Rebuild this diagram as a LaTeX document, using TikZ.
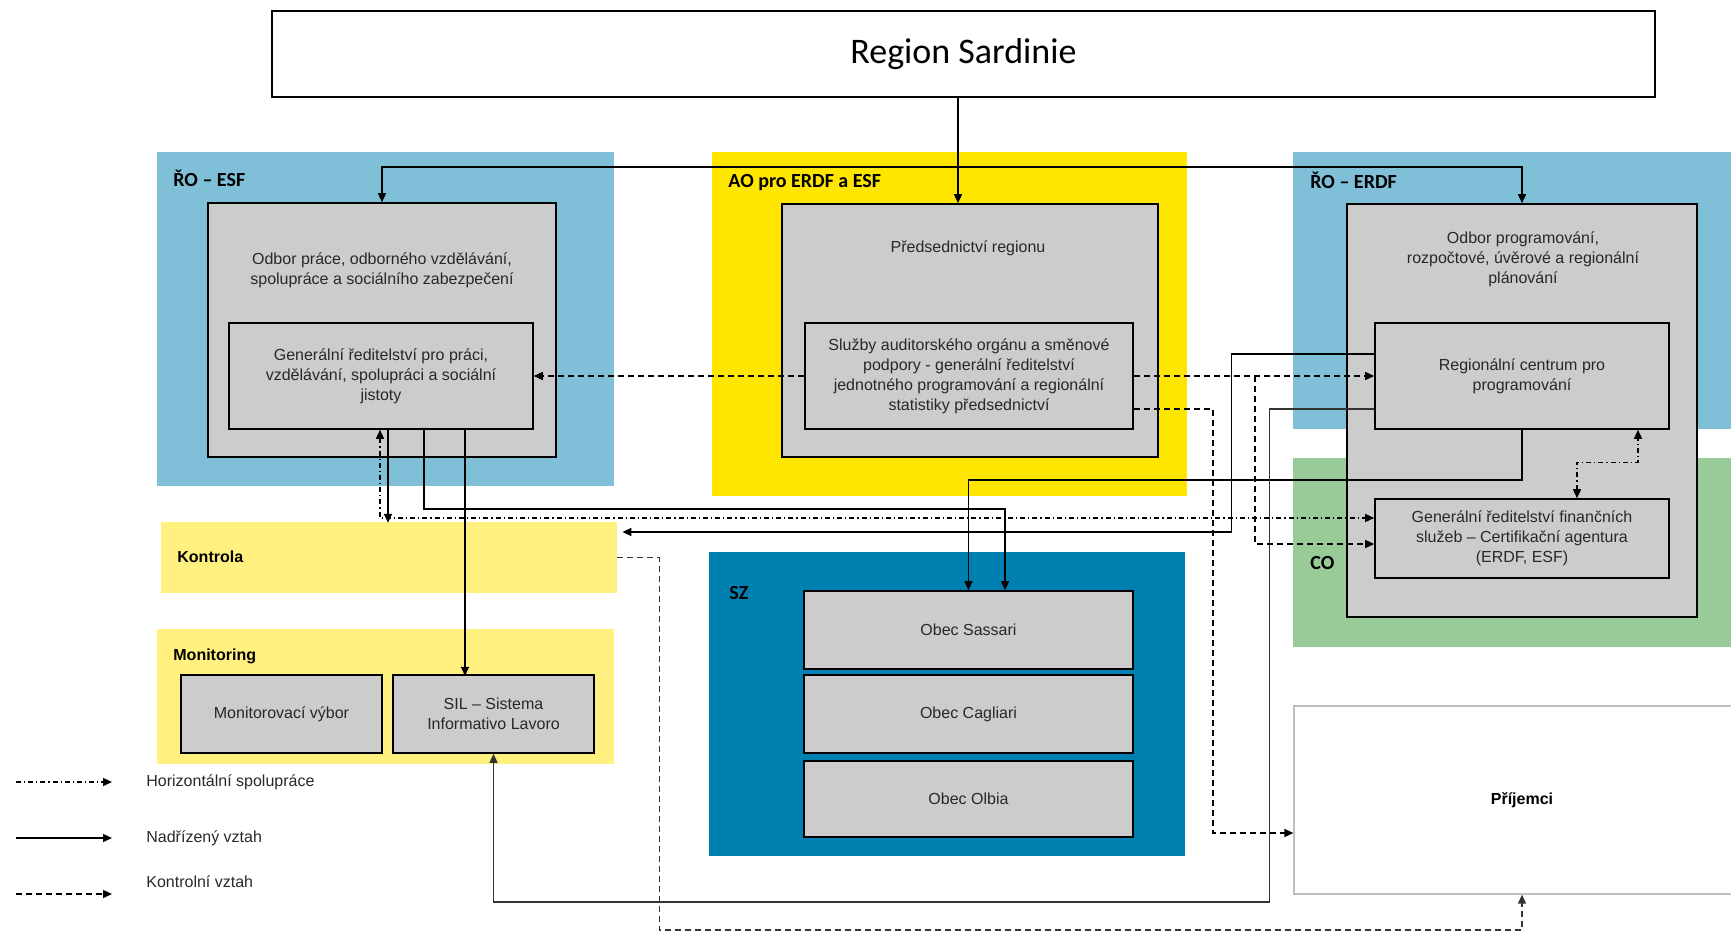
\documentclass[tikz,border=0pt]{standalone}
\usepackage{fontspec}
\setmainfont{Liberation Sans}
\newfontfamily\calibri{Carlito}
\usetikzlibrary{arrows.meta}
\definecolor{roblue}{RGB}{127,192,216}
\definecolor{aoyellow}{RGB}{255,230,0}
\definecolor{kyellow}{RGB}{255,240,128}
\definecolor{szblue}{RGB}{0,128,177}
\definecolor{cogreen}{RGB}{153,203,153}
\definecolor{boxgray}{RGB}{204,204,204}
\definecolor{txtgray}{RGB}{40,40,40}
\tikzset{
  >={Triangle[length=4.5pt,width=4pt]},
  bg/.style      ={draw=none,inner sep=0pt},
  gbox/.style    ={draw=black,line width=0.8pt,fill=boxgray,inner sep=0pt,align=center,
                   font=\fontsize{8}{10}\selectfont,text=txtgray},
  btext/.style   ={inner sep=0pt,align=center,font=\fontsize{8}{10}\selectfont,text=txtgray},
  grplbl/.style  ={inner sep=0pt,anchor=west,font=\calibri\bfseries\fontsize{10}{12}\selectfont},
  arlbl/.style   ={inner sep=0pt,anchor=west,font=\bfseries\fontsize{8}{10}\selectfont},
  relline/.style ={line width=0.7pt,->},
  nadr/.style    ={relline},
  kontr/.style   ={relline,dash pattern=on 3pt off 2pt},
  hspol/.style   ={relline,dash pattern=on 2.5pt off 1.5pt on 0.6pt off 1.5pt},
}
% box from pixel corners: [style]{name}{x1}{y1}{x2}{y2}{text}
\newcommand{\gbox}[7][gbox]{%
  \pgfmathsetmacro{\bw}{(#5-#3)*0.5}%
  \pgfmathsetmacro{\bh}{(#6-#4)*0.5}%
  \node[#1,minimum width=\bw pt,minimum height=\bh pt] (#2) at ({(#3+#5)/2},{(#4+#6)/2}) {#7};}

\begin{document}
\begin{tikzpicture}[x=0.5pt,y=-0.5pt]
  \useasboundingbox (0,0) rectangle (1731,932);
  % coloured areas
  \gbox[bg,fill=roblue]{esfbg}{157}{152}{614}{486}{}
  \gbox[bg,fill=aoyellow]{aobg}{712}{152}{1187}{496}{}
  \gbox[bg,fill=roblue]{erdfbg}{1293}{152}{1740}{429}{}
  \gbox[bg,fill=cogreen]{cobg}{1293}{458}{1740}{647}{}
  \gbox[bg,fill=kyellow]{kontrola}{161}{522}{617}{593}{}
  \gbox[bg,fill=kyellow]{monitoring}{157}{629}{614}{764}{}
  \gbox[bg,fill=szblue]{szbg}{709}{552}{1185}{856}{}
  \node[grplbl] at (173,178) {ŘO – ESF};
  \node[grplbl] at (728,183) {AO pro ERDF a ESF};
  \node[grplbl] at (1310,180) {ŘO – ERDF};
  \node[grplbl] at (1310,563) {CO};
  \node[grplbl] at (729,593) {SZ};
  \node[arlbl] at (177,557) {Kontrola};
  \node[arlbl] at (173,656) {Monitoring};
  % boxes
  \gbox[gbox,fill=white,text=black]{region}{272}{11}{1655}{97}{\calibri\fontsize{18}{22}\selectfont Region Sardinie}
  \gbox{esfout}{208}{203}{556}{457}{}
  \node[btext] (esfoutlbl) at (382,270) {Odbor práce, odborného vzdělávání,\\spolupráce a sociálního zabezpečení};
  \gbox{esfin}{229}{323}{533}{429}{Generální ředitelství pro práci,\\vzdělávání, spolupráci a sociální\\jistoty}
  \gbox{aoout}{782}{204}{1158}{457}{}
  \node[btext] (aooutlbl) at (968,248) {Předsednictví regionu};
  \gbox{aoin}{805}{323}{1133}{429}{Služby auditorského orgánu a směnové\\podpory - generální ředitelství\\jednotného programování a regionální\\statistiky předsednictví}
  \gbox{erdfout}{1347}{204}{1697}{617}{}
  \node[btext] (erdfoutlbl) at (1523,259) {Odbor programování,\\rozpočtové, úvěrové a regionální\\plánování};
  \gbox{rc}{1375}{323}{1669}{429}{Regionální centrum pro\\programování}
  \gbox{gf}{1375}{499}{1669}{578}{Generální ředitelství finančních\\služeb – Certifikační agentura\\(ERDF, ESF)}
  \gbox{sassari}{804}{591}{1133}{669}{Obec Sassari}
  \gbox{cagliari}{804}{675}{1133}{753}{Obec Cagliari}
  \gbox{olbia}{804}{761}{1133}{837}{Obec Olbia}
  \gbox{monvybor}{181}{675}{382}{753}{Monitorovací výbor}
  \gbox{sil}{393}{675}{594}{753}{SIL – Sistema\\Informativo Lavoro}
  \gbox[gbox,fill=white,draw=black!25,line width=0.6pt,text=black]{prijemci}{1294}{706}{1750}{894}{\bfseries Příjemci}
  % superior relations
  \coordinate (branch) at (958,167);
  \draw[nadr] ([xshift=-2.75pt]region.south) -- ([xshift=-6pt]aoout.north);
  \draw[nadr] (branch) -| (esfout.north);
  \draw[nadr] (branch) -| (erdfout.north);
  \draw[nadr] ([xshift=3.5pt]esfin.south) -- ++(0,93);
  \draw[nadr] ([xshift=21.5pt]esfin.south) -- ++(0,79) -| ([xshift=18.25pt]sassari.north);
  \draw[nadr] ([xshift=42pt]esfin.south) -- ++(0,246);
  \draw[nadr] (rc.south) -- ++(0,50) -| (sassari.north);
  \draw[nadr] ([yshift=11pt]rc.west) -- ++(-143,0) |- ([xshift=2.5pt,yshift=12.75pt]kontrola.east);
  \draw[nadr,black!80] ([yshift=-16.5pt]rc.west) -- ++(-105,0) -- ++(0,493) -| (sil.south);
  % control relations
  \draw[kontr] (aoin.west) -- (esfin.east);
  \draw[kontr] (aoin.east) -- (rc.west);
  \draw[kontr] ([xshift=60.5pt]aoin.east) |- ([yshift=-2.75pt]gf.west);
  \draw[kontr] ([yshift=-16.5pt]aoin.east) -- ++(79,0) |- ([yshift=-16.5pt]prijemci.west);
  \draw[kontr,black!80] (kontrola.east) -- ++(42,0) -- ++(0,372.5) -| (prijemci.south);
  % horizontal cooperation
  \draw[hspol,<->] ([xshift=-0.5pt]esfin.south) |- ([yshift=10.25pt]gf.west);
  \draw[hspol,<->] ([xshift=27.5pt]gf.north) -- ++(0,-36) -| ([xshift=58pt]rc.south);
  % legend
  \node[btext,anchor=west] (lghor) at (146,782) {Horizontální spolupráce};
  \node[btext,anchor=west] (lgnadr) at (146,838) {Nadřízený vztah};
  \node[btext,anchor=west] (lgkontr) at (146,882) {Kontrolní vztah};
  \draw[hspol] (lghor.west) ++(-130,0) -- ++(96,0);
  \draw[nadr] (lgnadr.west) ++(-130,0) -- ++(96,0);
  \draw[kontr] (lgkontr.west) ++(-130,12) -- ++(96,0);
\end{tikzpicture}
\end{document}
